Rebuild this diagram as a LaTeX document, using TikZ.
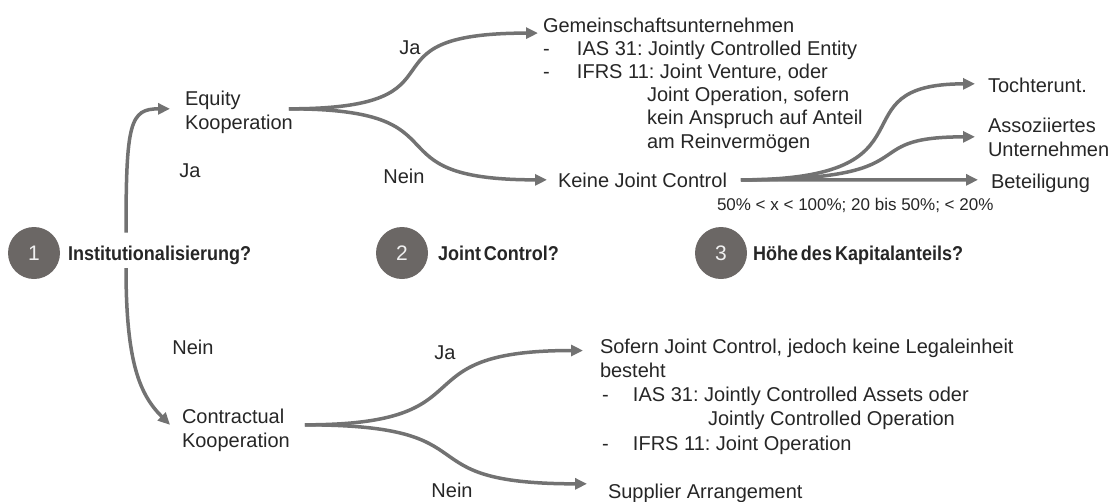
\documentclass[tikz,border=0pt]{standalone}
\usepackage{fontspec}
\setmainfont{Liberation Sans}
\newfontfamily\headfont{Liberation Sans}[FakeStretch=0.9, WordSpace=0.6]
\usetikzlibrary{arrows.meta}
\definecolor{inkgray}{HTML}{262626}
\definecolor{linegray}{HTML}{727272}
\definecolor{discgray}{HTML}{6B6765}
\frenchspacing

\begin{document}
\begin{tikzpicture}[x=1pt,y=-1pt,
  every node/.style={inner sep=0pt, outer sep=0pt, text=inkgray,
    font=\fontsize{20}{24}\selectfont},
  lbl/.style={anchor=base west},
  % a multi-line block is placed by the baseline of its last line
  block/.style={anchor=base west, align=left},
  disc/.style={circle, fill=discgray, minimum size=52pt, text=white!94!black,
    font=\fontsize{21}{24}\selectfont},
  head/.style={anchor=base west, font=\fontsize{20}{24}\headfont\bfseries},
  small/.style={anchor=base west, font=\fontsize{17}{20}\selectfont},
  flow/.style={draw=linegray, line width=3.5pt,
    -{Triangle[length=12pt,width=11pt]}},
]
\useasboundingbox (0,0) rectangle (1110,501);

% question row
\node[disc] (c1) at (34,253) {1};
\node[head] (q1) at (68,260) {Institutionalisierung?};
\node[disc] (c2) at (402,253) {2};
\node[head] (q2) at (438,260) {Joint Control?};
\node[disc] (c3) at (721,253) {3};
\node[head] (q3) at (753,260) {Höhe des Kapitalanteils?};

% step 1 outcomes
\node[block] (eq) at (185,129) {Equity\\Kooperation};
\node[block] (con) at (182,447) {Contractual\\Kooperation};
\node (ja1) at (190,171) {Ja};
\node (nein1) at (193,347) {Nein};

% step 2, equity branch
\node[block, font=\fontsize{20}{23.2}\selectfont] (gem) at (543,148) {Gemeinschaftsunternehmen\\
  \makebox[34pt][l]{-}IAS 31: Jointly Controlled Entity\\
  \makebox[34pt][l]{-}IFRS 11: Joint Venture, oder\\
  \hspace*{104pt}Joint Operation, sofern\\
  \hspace*{104pt}kein Anspruch auf Anteil\\
  \hspace*{104pt}am Reinvermögen};
\node (ja2) at (410,48) {Ja};
\node (nein2) at (404,176) {Nein};
\node[lbl] (keine) at (558,187) {Keine Joint Control};
\node[small] (pct) at (717,210) {50\% < x < 100\%; 20 bis 50\%; < 20\%};

% step 3
\node[lbl] (toch) at (988,92) {Tochterunt.};
\node[block] (asso) at (988,156) {Assoziiertes\\Unternehmen};
\node[lbl] (bet) at (991,188) {Beteiligung};

% step 2, contractual branch
\node[block, font=\fontsize{20}{24.2}\selectfont] (sof) at (600,450) {Sofern Joint Control, jedoch keine Legaleinheit\\
  besteht\\
  \hspace*{2pt}\makebox[31pt][l]{-}IAS 31: Jointly Controlled Assets oder\\
  \hspace*{108pt}Jointly Controlled Operation\\
  \hspace*{2pt}\makebox[31pt][l]{-}IFRS 11: Joint Operation};
\node (ja3) at (445,353) {Ja};
\node (nein3) at (452,490) {Nein};
\node[lbl] (sup) at (608,498) {Supplier Arrangement};

% fork points
\coordinate (efork) at ([xshift=-4pt,yshift=3pt]eq.east);
\coordinate (kfork) at ([xshift=14pt]keine.east);
\coordinate (cfork) at ([xshift=15pt,yshift=5pt]con.east);

% connectors
\draw[flow] ([xshift=58pt,yshift=13pt]q1.north west)
  .. controls +(0,-110) and +(-40,0) .. ([xshift=-15pt,yshift=3pt]eq.west);
\draw[flow] ([xshift=58pt,yshift=-4pt]q1.south west)
  .. controls +(0,95) and +(-30,-30) .. ([xshift=-12pt,yshift=5pt]con.west);

\draw[flow] (efork) .. controls +(190,0) and +(-190,0)
  .. ([xshift=-5pt,yshift=-15.6pt]gem.north west);
\draw[flow] (efork) .. controls +(185,0) and +(-185,0)
  .. ([xshift=-11pt]keine.west);

\draw[flow] (kfork) .. controls +(205,0) and +(-145,0)
  .. ([xshift=-13pt,yshift=1pt]toch.west);
\draw[flow] (kfork) .. controls +(195,0) and +(-125,0)
  .. ([xshift=-13pt]asso.west);
\draw[flow] (kfork) -- ([xshift=-13pt,yshift=3pt]bet.west);

\draw[flow] (cfork) .. controls +(190,0) and +(-190,0)
  .. ([xshift=-17pt,yshift=-11.8pt]sof.north west);
\draw[flow] (cfork) .. controls +(195,0) and +(-190,0)
  .. ([xshift=-21pt,yshift=9pt]sup.west);
\end{tikzpicture}
\end{document}
